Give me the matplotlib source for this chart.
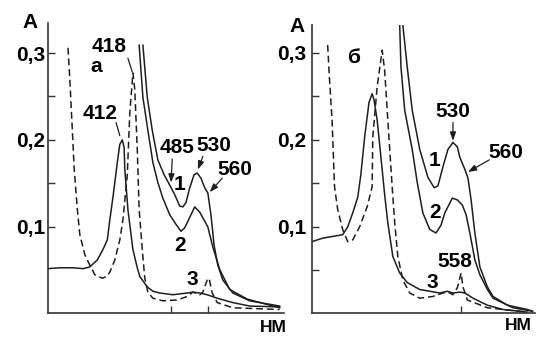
import matplotlib
matplotlib.use("Agg")
import matplotlib.pyplot as plt

plt.rcParams['font.family'] = ['Liberation Sans', 'DejaVu Sans']
plt.rcParams['font.weight'] = 'bold'

# ---------------- Panel "а" ----------------
a_dash_nm = [335, 338, 342, 345, 350, 354, 362, 370, 378, 390, 397, 402, 410, 418, 423, 430,
             434, 439, 442, 446, 449, 454, 458, 463, 471, 487, 510, 526, 535, 546, 551, 558,
             561, 566, 574, 599, 674]
a_dash_A = [0.306, 0.269, 0.211, 0.166, 0.120, 0.091, 0.068, 0.056, 0.045, 0.041, 0.043, 0.048,
            0.062, 0.085, 0.108, 0.160, 0.231, 0.277, 0.258, 0.189, 0.120, 0.074, 0.041, 0.025,
            0.018, 0.015, 0.016, 0.020, 0.025, 0.022, 0.025, 0.039, 0.041, 0.024, 0.013, 0.007, 0.005]

a_c3_nm = [303, 322, 343, 359, 370, 382, 391, 398, 402, 407, 414, 418, 422, 425, 426, 431, 439,
           446, 450, 462, 471, 482, 503, 526, 535, 546, 558, 574, 599, 626, 674]
a_c3_A = [0.052, 0.053, 0.053, 0.052, 0.054, 0.062, 0.074, 0.085, 0.108, 0.134, 0.174, 0.195,
          0.200, 0.191, 0.166, 0.120, 0.074, 0.053, 0.043, 0.031, 0.026, 0.024, 0.022, 0.024,
          0.025, 0.024, 0.022, 0.018, 0.013, 0.009, 0.008]

a_c1_nm = [455, 462, 470, 479, 489, 498, 506, 514, 519, 524, 530, 537, 542, 548, 554, 559, 564,
           569, 575, 583, 599, 626, 674]
a_c1_A = [0.309, 0.249, 0.211, 0.177, 0.160, 0.148, 0.137, 0.124, 0.123, 0.128, 0.145, 0.160,
          0.162, 0.156, 0.145, 0.139, 0.114, 0.079, 0.056, 0.039, 0.024, 0.015, 0.009]

a_c2_nm = [449, 455, 463, 471, 479, 487, 498, 508, 516, 522, 530, 538, 546, 553, 559, 567, 578,
           594, 622, 674]
a_c2_A = [0.309, 0.249, 0.211, 0.174, 0.151, 0.133, 0.114, 0.103, 0.095, 0.099, 0.111, 0.123,
          0.117, 0.108, 0.100, 0.077, 0.051, 0.028, 0.017, 0.007]

# ---------------- Panel "б" ----------------
b_dash_nm = [347, 350, 354, 358, 363, 371, 379, 387, 398, 410, 418, 419, 426, 434, 438, 443, 450,
             454, 459, 467, 478, 494, 515, 531, 539, 547, 554, 560, 563, 570, 602, 666]
b_dash_A = [0.309, 0.269, 0.223, 0.146, 0.120, 0.097, 0.083, 0.085, 0.100, 0.123, 0.146, 0.203,
            0.261, 0.303, 0.280, 0.223, 0.146, 0.105, 0.066, 0.039, 0.024, 0.018, 0.020, 0.024,
            0.025, 0.022, 0.030, 0.047, 0.031, 0.016, 0.007, 0.002]

b_c3_nm = [322, 339, 355, 371, 379, 387, 395, 400, 406, 413, 418, 421, 426, 434, 438, 443, 451,
           462, 474, 494, 526, 538, 547, 558, 566, 579, 602, 627, 666]
b_c3_A = [0.083, 0.087, 0.089, 0.091, 0.100, 0.116, 0.134, 0.160, 0.203, 0.243, 0.253, 0.246,
          0.223, 0.166, 0.137, 0.105, 0.066, 0.047, 0.036, 0.028, 0.024, 0.026, 0.024, 0.025,
          0.024, 0.018, 0.010, 0.005, 0.002]

b_c1_nm = [467, 474, 482, 494, 507, 517, 523, 531, 539, 547, 554, 558, 566, 571, 576, 582, 590,
           602, 611, 634, 666, 674]
b_c1_A = [0.332, 0.284, 0.234, 0.189, 0.157, 0.145, 0.147, 0.169, 0.189, 0.197, 0.192, 0.180,
          0.166, 0.156, 0.131, 0.093, 0.054, 0.031, 0.020, 0.010, 0.005, 0.003]

b_c2_nm = [462, 464, 470, 482, 490, 499, 510, 520, 528, 534, 546, 554, 562, 568, 574, 582, 590,
           602, 611, 643, 674]
b_c2_A = [0.332, 0.284, 0.234, 0.189, 0.151, 0.116, 0.097, 0.093, 0.102, 0.116, 0.133, 0.131,
          0.125, 0.114, 0.093, 0.062, 0.045, 0.028, 0.018, 0.007, 0.003]

ytick_vals = [0.1, 0.2, 0.3]
ytick_labels = ["0,1", "0,2", "0,3"]

LC = '#1e1e1e'
W, H = 560, 341
fig = plt.figure(figsize=(W / 100, H / 100), dpi=100)
fig.patch.set_facecolor('white')

ax1 = fig.add_axes([48 / W, (H - 313) / H, (284 - 48) / W, (313 - 23) / H])
ax2 = fig.add_axes([312 / W, (H - 313) / H, (535 - 312) / W, (313 - 25) / H])

ax1.set_xlim(303, 681)
ax1.set_ylim(0.001, 0.3345)
ax2.set_xlim(322, 678)
ax2.set_ylim(0.001, 0.332)

lw = 1.1
dash = (0, (4.5, 2.5))
ax1.plot(a_dash_nm, a_dash_A, color=LC, lw=lw, linestyle=dash)
ax1.plot(a_c3_nm, a_c3_A, color=LC, lw=lw)
ax1.plot(a_c1_nm, a_c1_A, color=LC, lw=lw)
ax1.plot(a_c2_nm, a_c2_A, color=LC, lw=lw)

ax2.plot(b_dash_nm, b_dash_A, color=LC, lw=lw, linestyle=dash)
ax2.plot(b_c3_nm, b_c3_A, color=LC, lw=lw)
ax2.plot(b_c1_nm, b_c1_A, color=LC, lw=lw)
ax2.plot(b_c2_nm, b_c2_A, color=LC, lw=lw)

for ax, minors, xt, pad in [(ax1, [0.15, 0.25], [500, 560], 2),
                            (ax2, [0.05, 0.15, 0.25], [560], 4)]:
    ax.set_facecolor('none')
    for s in ['top', 'right']:
        ax.spines[s].set_visible(False)
    for s in ['left', 'bottom']:
        ax.spines[s].set_linewidth(1.2)
        ax.spines[s].set_color('#333333')
    ax.set_yticks(ytick_vals)
    ax.set_yticklabels(ytick_labels, fontsize=15, fontweight='bold')
    ax.set_yticks(minors, minor=True)
    ax.set_xticks(xt)
    ax.set_xticklabels([])
    ax.tick_params(axis='both', which='both', direction='in', length=5, width=1.0,
                   color='#333333', pad=pad)

fs = 15
arrow_kw = dict(arrowstyle='-|>,head_length=0.5,head_width=0.18', color=LC, lw=0.9,
                shrinkA=0, shrinkB=0)
line_kw = dict(arrowstyle='-', color=LC, lw=0.9, shrinkA=0, shrinkB=0)

# panel a texts
ax1.text(401, 0.307, "418", fontsize=fs, ha='center', va='center')
ax1.text(380, 0.285, "а", fontsize=fs, ha='center', va='center')
ax1.annotate("", xy=(438, 0.278), xytext=(431, 0.294), arrowprops=line_kw)
ax1.text(386, 0.231, "412", fontsize=fs, ha='center', va='center')
ax1.annotate("", xy=(418, 0.205), xytext=(412, 0.220), arrowprops=line_kw)
ax1.text(510, 0.191, "485", fontsize=fs, ha='center', va='center')
ax1.annotate("", xy=(500, 0.151), xytext=(502, 0.178), arrowprops=arrow_kw)
ax1.text(569, 0.194, "530", fontsize=fs, ha='center', va='center')
ax1.annotate("", xy=(543, 0.166), xytext=(551, 0.181), arrowprops=arrow_kw)
ax1.text(603, 0.166, "560", fontsize=fs, ha='center', va='center')
ax1.annotate("", xy=(562, 0.140), xytext=(582, 0.156), arrowprops=arrow_kw)
ax1.text(514, 0.149, "1", fontsize=fs, ha='center', va='center')
ax1.text(514, 0.079, "2", fontsize=fs, ha='center', va='center')
ax1.text(534, 0.039, "3", fontsize=fs, ha='center', va='center')

# panel b texts
ax2.text(390, 0.295, "б", fontsize=fs, ha='center', va='center')
ax2.text(547, 0.233, "530", fontsize=fs, ha='center', va='center')
ax2.annotate("", xy=(547, 0.199), xytext=(547, 0.220), arrowprops=arrow_kw)
ax2.text(632, 0.185, "560", fontsize=fs, ha='center', va='center')
ax2.annotate("", xy=(571, 0.163), xytext=(605, 0.177), arrowprops=arrow_kw)
ax2.text(517, 0.176, "1", fontsize=fs, ha='center', va='center')
ax2.text(518, 0.116, "2", fontsize=fs, ha='center', va='center')
ax2.text(550, 0.060, "558", fontsize=fs, ha='center', va='center')
ax2.text(514, 0.036, "3", fontsize=fs, ha='center', va='center')

# axis names
fig.text(30 / W, 1 - 22 / H, "А", fontsize=15, ha='center', va='center')
fig.text(297 / W, 1 - 27 / H, "А", fontsize=15, ha='center', va='center')
fig.text(273 / W, 1 - 327 / H, "НМ", fontsize=12.5, ha='center', va='center')
fig.text(518 / W, 1 - 326 / H, "НМ", fontsize=12.5, ha='center', va='center')

fig.savefig("out.png", dpi=100, facecolor='white')
